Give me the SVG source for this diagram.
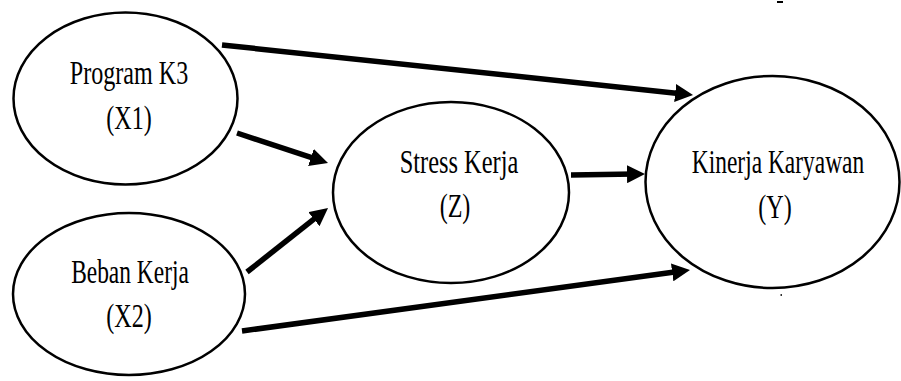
<svg xmlns="http://www.w3.org/2000/svg" width="901" height="381" viewBox="0 0 901 381">
<style>
.node ellipse{fill:#fff;stroke:#000;stroke-width:2.5}
.node text{font-family:"Liberation Serif","Times New Roman",serif;font-size:33px;fill:#000;text-anchor:middle}
.conn line{stroke:#000;stroke-width:5.5;marker-end:url(#ah)}
</style>
<defs>
<marker id="ah" markerUnits="userSpaceOnUse" markerWidth="18" markerHeight="18" refX="8" refY="9" orient="auto">
<path d="M0,0 L18,9 L0,18 z" fill="#000"/>
</marker>
</defs>
<rect width="901" height="381" fill="#fff"/>
<g id="connectors" class="conn">
<line x1="222" y1="45" x2="683.1" y2="93.9"/>
<line x1="237" y1="133" x2="318.5" y2="159.9"/>
<line x1="247" y1="272" x2="320.2" y2="214.2"/>
<line x1="242" y1="331" x2="680.1" y2="271.3"/>
<line x1="571" y1="175" x2="635" y2="174.1"/>
</g>
<g id="node-x1" class="node">
<ellipse cx="125.5" cy="98.5" rx="112" ry="86"/>
<text transform="translate(129,84) scale(0.73,1)">Program K3</text>
<text transform="translate(129,129) scale(0.73,1)">(X1)</text>
</g>
<g id="node-x2" class="node">
<ellipse cx="129" cy="294" rx="116" ry="81"/>
<text transform="translate(130,283) scale(0.71,1)">Beban Kerja</text>
<text transform="translate(129,327) scale(0.73,1)">(X2)</text>
</g>
<g id="node-z" class="node">
<ellipse cx="451" cy="192.5" rx="118" ry="90.5"/>
<text transform="translate(459,173) scale(0.74,1)">Stress Kerja</text>
<text transform="translate(455,217) scale(0.73,1)">(Z)</text>
</g>
<g id="node-y" class="node">
<ellipse cx="772.5" cy="182" rx="127" ry="106"/>
<text transform="translate(778,173) scale(0.71,1)">Kinerja Karyawan</text>
<text transform="translate(775,218) scale(0.73,1)">(Y)</text>
</g>
<rect x="777" y="1" width="6" height="2" fill="#000"/>
<rect x="780.5" y="294" width="1.5" height="2" fill="#333"/>
</svg>
